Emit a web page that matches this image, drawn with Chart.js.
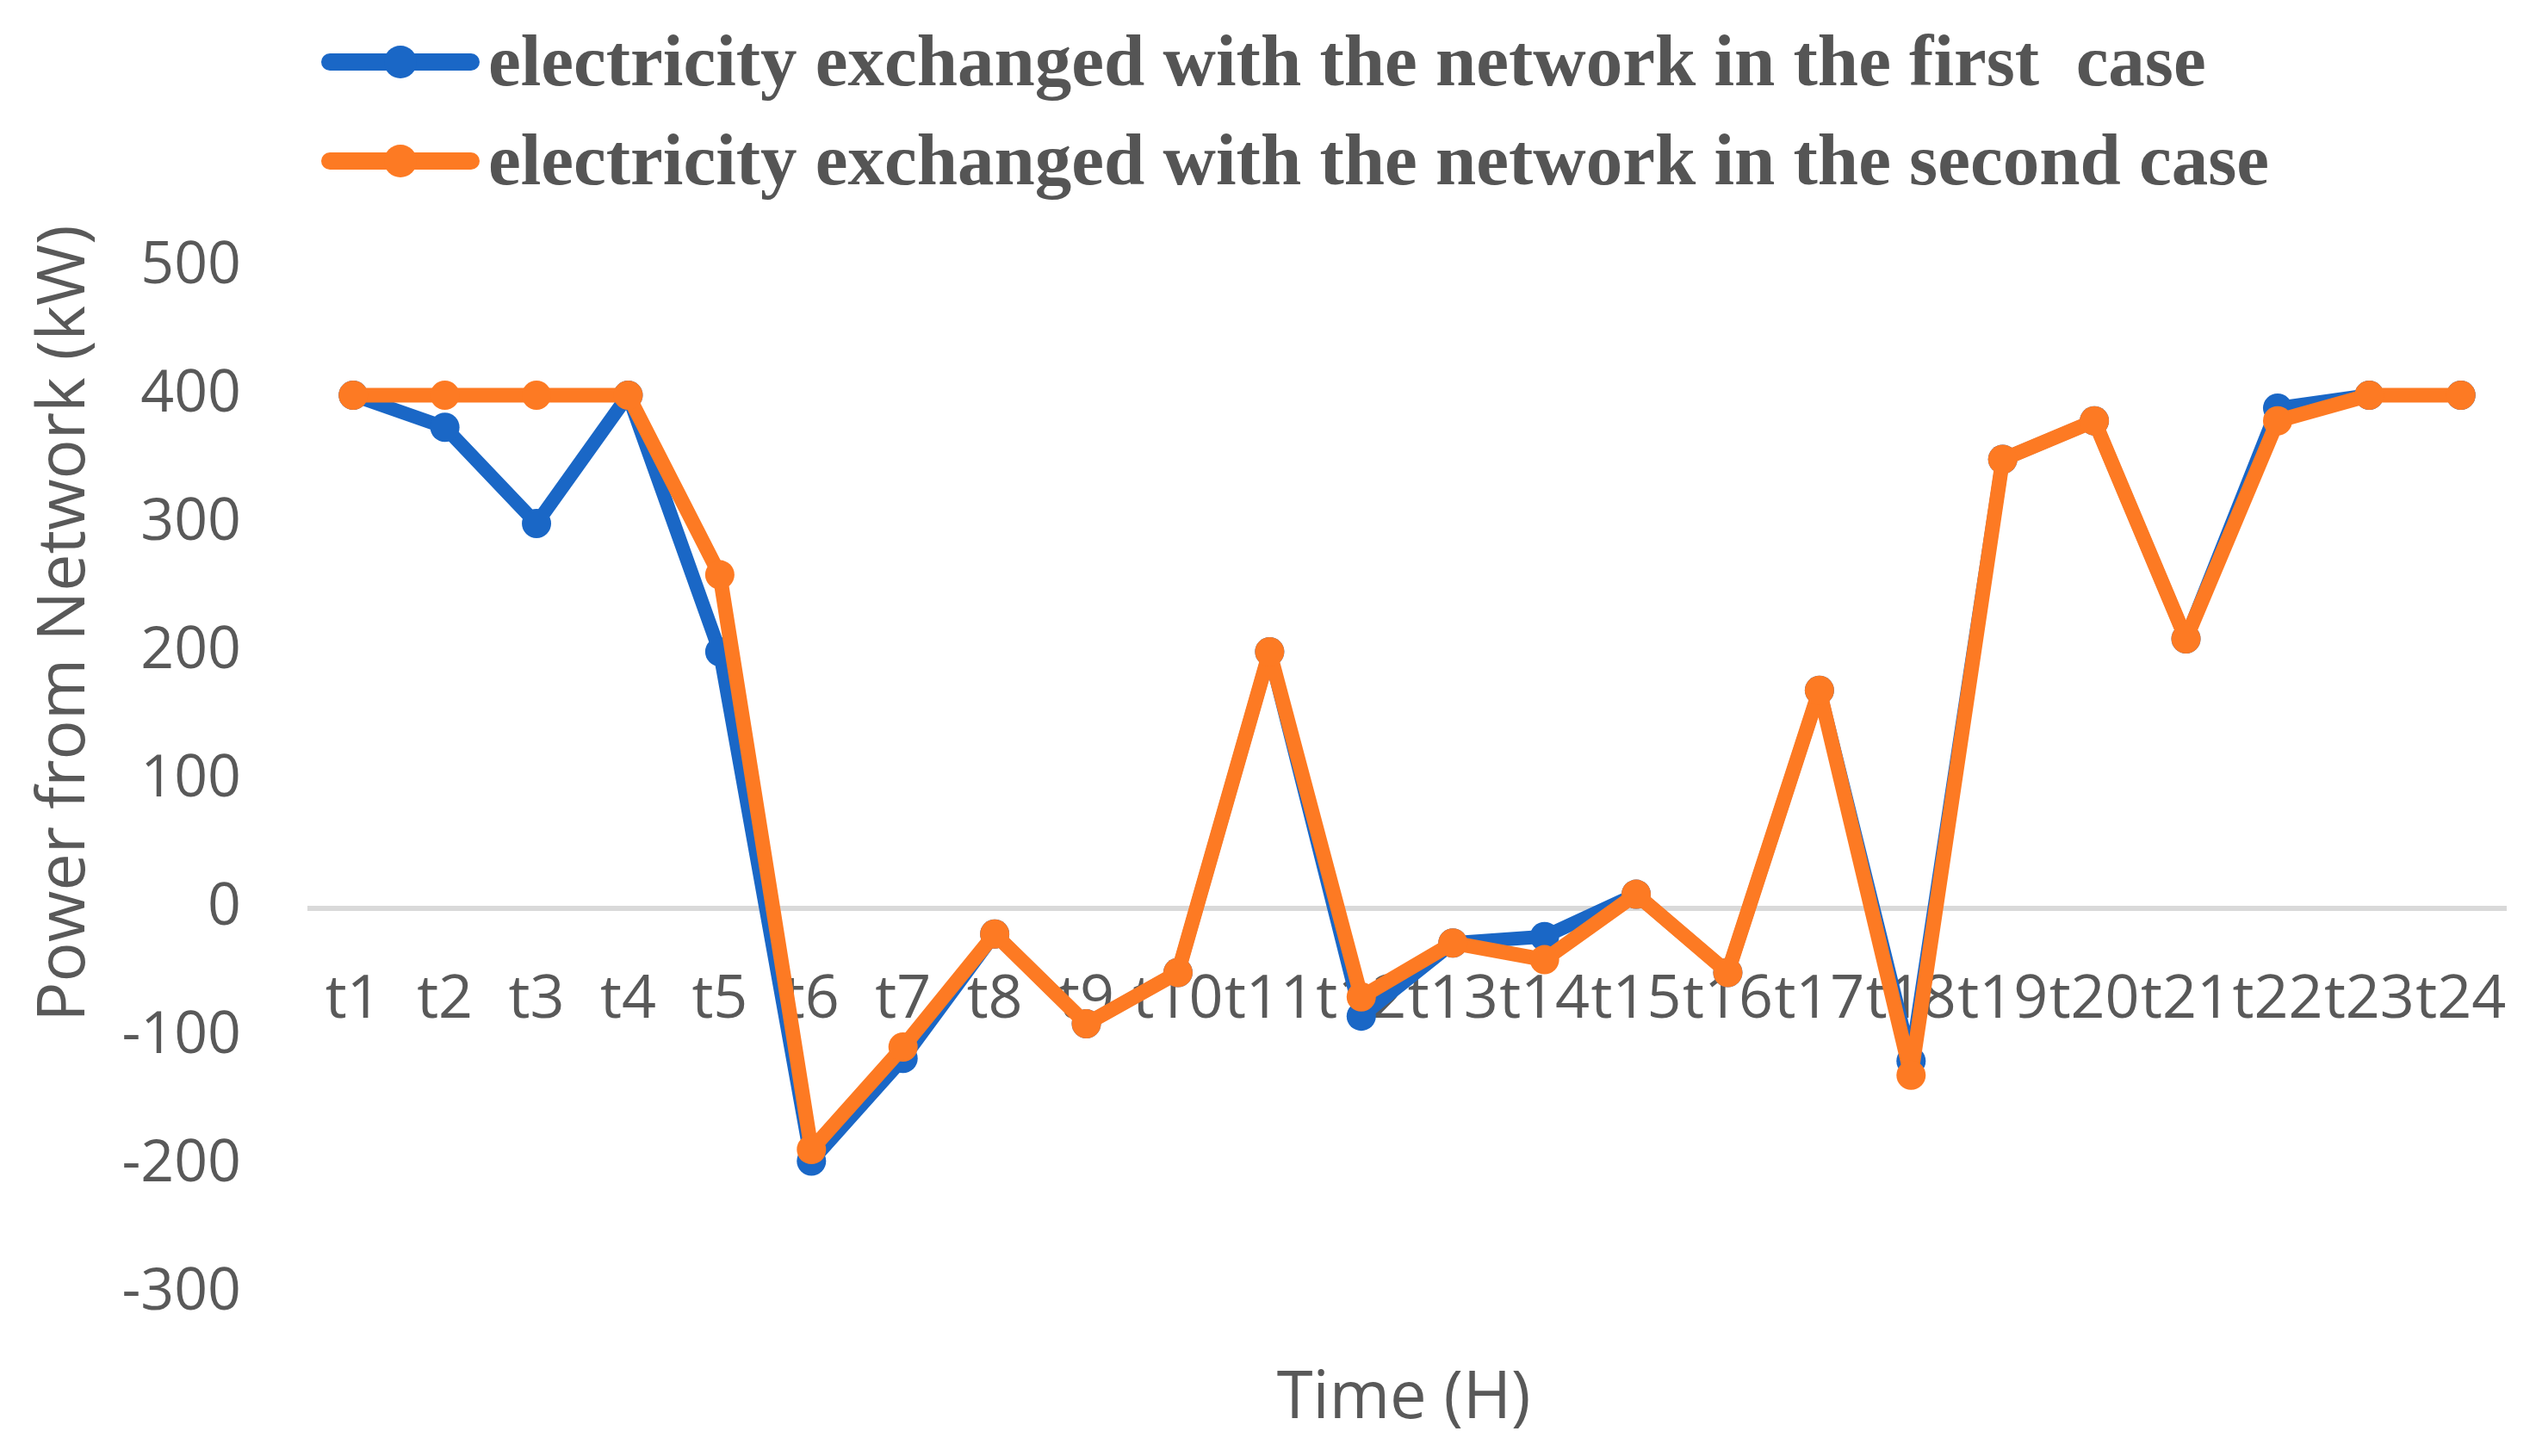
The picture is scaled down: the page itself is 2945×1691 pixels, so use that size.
<!DOCTYPE html>
<html>
<head>
<meta charset="utf-8">
<script src="https://cdn.jsdelivr.net/npm/chart.js@4"></script>
<style>
  html, body { margin: 0; padding: 0; background: #fff; }
  #wrap { width: 2945px; height: 1691px; position: relative; }
</style>
</head>
<body>
<div id="wrap"><canvas id="powerChart"></canvas></div>
<script>
const hours = ['t1', 't2', 't3', 't4', 't5', 't6', 't7', 't8', 't9', 't10', 't11', 't12',
  't13', 't14', 't15', 't16', 't17', 't18', 't19', 't20', 't21', 't22', 't23', 't24'];
const firstCase = [400, 375, 300, 400, 200, -197, -117, -20, -90, -50, 200, -84,
  -27, -22, 11, -50, 170, -119, 350, 380, 210, 390, 400, 400];
const secondCase = [400, 400, 400, 400, 260, -188, -108, -20, -90, -50, 200, -69,
  -27, -40, 11, -50, 170, -130, 350, 380, 210, 380, 400, 400];
const yTicks = [500, 400, 300, 200, 100, 0, -100, -200, -300];
const seriesNames = ['electricity exchanged with the network in the first  case',
  'electricity exchanged with the network in the second case'];

const BLUE = '#1a67c6';
const ORANGE = '#fd7a23';
const GREY = '#595959';

// legend and axis titles drawn by hand so they sit where the original has them
const chartText = {
  id: 'chartText',
  afterDraw(chart) {
    const ctx = chart.ctx;
    ctx.save();
    chart.data.datasets.forEach((ds, i) => {
      const y = 72 + i * 115;
      ctx.strokeStyle = ds.borderColor;
      ctx.lineWidth = 20;
      ctx.lineCap = 'round';
      ctx.beginPath();
      ctx.moveTo(383, y);
      ctx.lineTo(547, y);
      ctx.stroke();
      ctx.fillStyle = ds.borderColor;
      ctx.beginPath();
      ctx.arc(465, y, 19, 0, Math.PI * 2);
      ctx.fill();
      ctx.font = 'bold 85px "Liberation Serif"';
      ctx.fillStyle = '#555555';
      ctx.textAlign = 'left';
      ctx.textBaseline = 'alphabetic';
      ctx.fillText(ds.label, 567, y + 27);
    });

    ctx.fillStyle = GREY;
    ctx.font = '76px "Open Sans"';
    ctx.textAlign = 'center';
    ctx.textBaseline = 'alphabetic';
    ctx.fillText('Time (H)', 1630, 1647);

    ctx.translate(98, 724);
    ctx.rotate(-Math.PI / 2);
    ctx.font = '77px "Open Sans"';
    ctx.fillText('Power from Network (kW)', 0, 0);
    ctx.restore();
  }
};

new Chart(document.getElementById('powerChart'), {
  type: 'line',
  data: {
    labels: hours,
    datasets: [
      { label: seriesNames[0], data: firstCase, borderColor: BLUE, backgroundColor: BLUE,
        pointBackgroundColor: BLUE, borderWidth: 16, pointRadius: 17, pointBorderWidth: 0,
        borderJoinStyle: 'round', borderCapStyle: 'round', tension: 0, order: 2 },
      { label: seriesNames[1], data: secondCase, borderColor: ORANGE, backgroundColor: ORANGE,
        pointBackgroundColor: ORANGE, borderWidth: 17, pointRadius: 17, pointBorderWidth: 0,
        borderJoinStyle: 'round', borderCapStyle: 'round', tension: 0, order: 1 }
    ]
  },
  options: {
    responsive: true, maintainAspectRatio: false, animation: false,
    layout: { padding: { top: 310, bottom: 189, left: 0, right: 34 } },
    plugins: { legend: { display: false }, tooltip: { enabled: false } },
    scales: {
      x: {
        position: { y: 0 },
        offset: true,
        afterFit(scale) { scale.paddingLeft = 0; scale.paddingRight = 0; },
        grid: { display: false, drawTicks: false },
        border: { display: false },
        ticks: { autoSkip: false, maxRotation: 0, minRotation: 0, padding: 65,
          color: GREY, font: { family: 'Open Sans', size: 70 } }
      },
      y: {
        min: yTicks[yTicks.length - 1], max: yTicks[0],
        afterFit(scale) { scale.width = 357; },
        afterBuildTicks(scale) { scale.ticks = yTicks.map(v => ({ value: v })); },
        grid: { drawTicks: false, lineWidth: 6,
          color: c => (c.tick && c.tick.value === 0 ? '#d9d9d9' : 'rgba(0,0,0,0)') },
        border: { display: false },
        ticks: { padding: 77, color: GREY, font: { family: 'Open Sans', size: 68 } }
      }
    }
  },
  plugins: [chartText]
});
</script>
</body>
</html>
